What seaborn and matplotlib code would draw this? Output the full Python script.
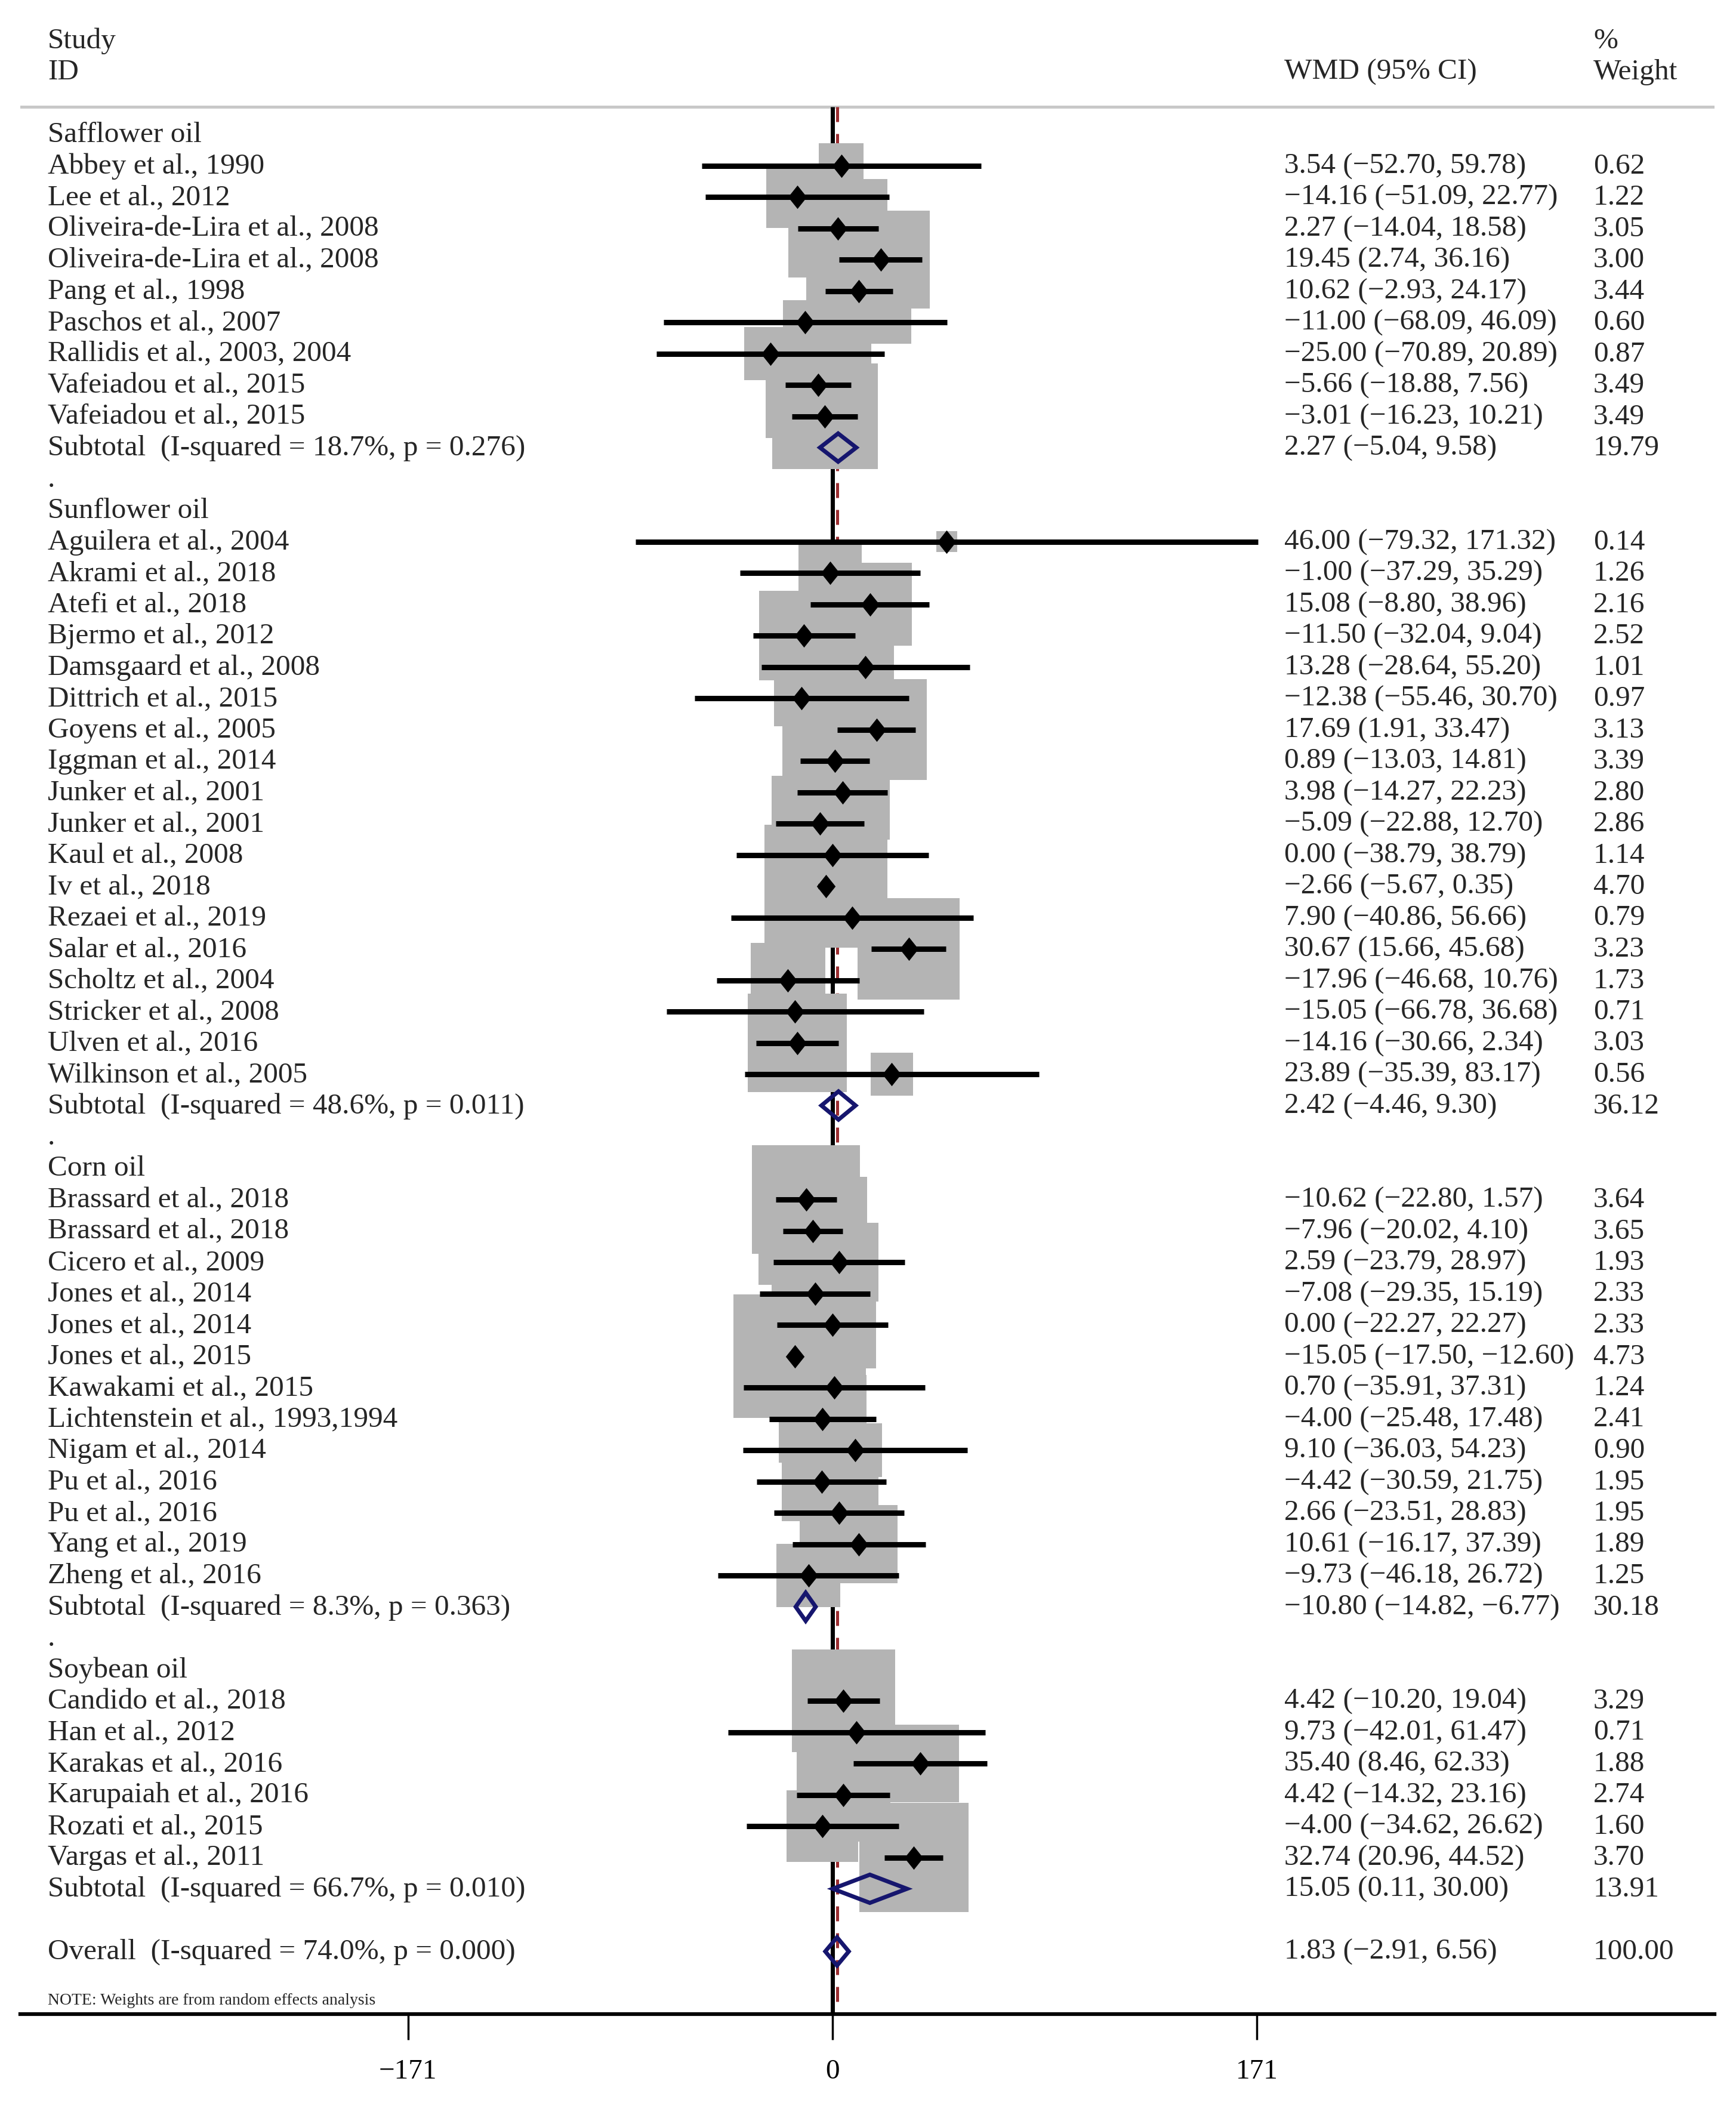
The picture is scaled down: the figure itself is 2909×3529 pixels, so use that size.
import numpy as np
import pandas as pd
import matplotlib
matplotlib.use("Agg")
import matplotlib.pyplot as plt
import seaborn as sns
from matplotlib.markers import MarkerStyle
from matplotlib.path import Path
from matplotlib.patches import Rectangle, Polygon
from matplotlib.transforms import blended_transform_factory

# Data
groups = ["Safflower oil", "Sunflower oil", "Corn oil", "Soybean oil"]
group_sizes = [9, 18, 13, 6]

studies = [
    "Abbey et al., 1990", "Lee et al., 2012", "Oliveira-de-Lira et al., 2008",
    "Oliveira-de-Lira et al., 2008", "Pang et al., 1998", "Paschos et al., 2007",
    "Rallidis et al., 2003, 2004", "Vafeiadou et al., 2015", "Vafeiadou et al., 2015",
    "Aguilera et al., 2004", "Akrami et al., 2018", "Atefi et al., 2018",
    "Bjermo et al., 2012", "Damsgaard et al., 2008", "Dittrich et al., 2015",
    "Goyens et al., 2005", "Iggman et al., 2014", "Junker et al., 2001",
    "Junker et al., 2001", "Kaul et al., 2008", "Iv et al., 2018",
    "Rezaei et al., 2019", "Salar et al., 2016", "Scholtz et al., 2004",
    "Stricker et al., 2008", "Ulven et al., 2016", "Wilkinson et al., 2005",
    "Brassard et al., 2018", "Brassard et al., 2018", "Cicero et al., 2009",
    "Jones et al., 2014", "Jones et al., 2014", "Jones et al., 2015",
    "Kawakami et al., 2015", "Lichtenstein et al., 1993,1994", "Nigam et al., 2014",
    "Pu et al., 2016", "Pu et al., 2016", "Yang et al., 2019", "Zheng et al., 2016",
    "Candido et al., 2018", "Han et al., 2012", "Karakas et al., 2016",
    "Karupaiah et al., 2016", "Rozati et al., 2015", "Vargas et al., 2011",
]
est = [3.54, -14.16, 2.27, 19.45, 10.62, -11.00, -25.00, -5.66, -3.01,
       46.00, -1.00, 15.08, -11.50, 13.28, -12.38, 17.69, 0.89, 3.98, -5.09,
       0.00, -2.66, 7.90, 30.67, -17.96, -15.05, -14.16, 23.89,
       -10.62, -7.96, 2.59, -7.08, 0.00, -15.05, 0.70, -4.00, 9.10, -4.42,
       2.66, 10.61, -9.73,
       4.42, 9.73, 35.40, 4.42, -4.00, 32.74]
lo = [-52.70, -51.09, -14.04, 2.74, -2.93, -68.09, -70.89, -18.88, -16.23,
      -79.32, -37.29, -8.80, -32.04, -28.64, -55.46, 1.91, -13.03, -14.27, -22.88,
      -38.79, -5.67, -40.86, 15.66, -46.68, -66.78, -30.66, -35.39,
      -22.80, -20.02, -23.79, -29.35, -22.27, -17.50, -35.91, -25.48, -36.03, -30.59,
      -23.51, -16.17, -46.18,
      -10.20, -42.01, 8.46, -14.32, -34.62, 20.96]
hi = [59.78, 22.77, 18.58, 36.16, 24.17, 46.09, 20.89, 7.56, 10.21,
      171.32, 35.29, 38.96, 9.04, 55.20, 30.70, 33.47, 14.81, 22.23, 12.70,
      38.79, 0.35, 56.66, 45.68, 10.76, 36.68, 2.34, 83.17,
      1.57, 4.10, 28.97, 15.19, 22.27, -12.60, 37.31, 17.48, 54.23, 21.75,
      28.83, 37.39, 26.72,
      19.04, 61.47, 62.33, 23.16, 26.62, 44.52]
weight = [0.62, 1.22, 3.05, 3.00, 3.44, 0.60, 0.87, 3.49, 3.49,
          0.14, 1.26, 2.16, 2.52, 1.01, 0.97, 3.13, 3.39, 2.80, 2.86,
          1.14, 4.70, 0.79, 3.23, 1.73, 0.71, 3.03, 0.56,
          3.64, 3.65, 1.93, 2.33, 2.33, 4.73, 1.24, 2.41, 0.90, 1.95,
          1.95, 1.89, 1.25,
          3.29, 0.71, 1.88, 2.74, 1.60, 3.70]

sub_labels = ["Subtotal  (I-squared = 18.7%, p = 0.276)",
              "Subtotal  (I-squared = 48.6%, p = 0.011)",
              "Subtotal  (I-squared = 8.3%, p = 0.363)",
              "Subtotal  (I-squared = 66.7%, p = 0.010)"]
sub_est = [2.27, 2.42, -10.80, 15.05]
sub_lo = [-5.04, -4.46, -14.82, 0.11]
sub_hi = [9.58, 9.30, -6.77, 30.00]
sub_wt = [19.79, 36.12, 30.18, 13.91]

overall_label = "Overall  (I-squared = 74.0%, p = 0.000)"
overall_est, overall_lo, overall_hi, overall_wt = 1.83, -2.91, 6.56, 100.00

xticks = [-171, 0, 171]
xtick_labels = ["\u2212171", "0", "171"]
note = "NOTE: Weights are from random effects analysis"


def fmt(v):
    return f"{v:.2f}".replace("-", "\u2212")


def ci_text(e, l, h):
    return f"{fmt(e)} ({fmt(l)}, {fmt(h)})"


# Layout (pixels of the output image)
W, H, DPI = 2909, 3530, 100
PX_UNIT = 4.16      # pixels per WMD unit
ZERO_PX = 1395
ROW0_PX = 226
ROW_PX = 52.5
AX_L, AX_R = 34, 2873
BOX_K = 95          # box side in px per sqrt(weight)
FS = 35.5

sns.set_theme(style="white")
plt.rcParams["font.family"] = ["Liberation Serif", "DejaVu Serif"]

fig = plt.figure(figsize=(W / DPI, H / DPI), dpi=DPI)
ax = fig.add_axes([AX_L / W, 0, (AX_R - AX_L) / W, 1])
tr = blended_transform_factory(fig.transFigure, ax.transData)
x_lab, x_wmd, x_wt = 80 / W, 2152 / W, 2670 / W

# assign rows: header, studies, subtotal, blank line per group
study_rows, header_rows, sub_rows, blank_rows = [], [], [], []
r = 0
for g, n in enumerate(group_sizes):
    header_rows.append(r)
    r += 1
    for _ in range(n):
        study_rows.append(r)
        r += 1
    sub_rows.append(r)
    r += 1
    if g < len(group_sizes) - 1:
        blank_rows.append(r)
    r += 1
overall_row = r
axis_row = overall_row + 2
rule_row = (180 - ROW0_PX) / ROW_PX

# header
ax.text(x_lab, -3, "Study", transform=tr, fontsize=FS, va="center")
ax.text(x_lab, -2, "ID", transform=tr, fontsize=FS, va="center")
ax.text(x_wmd, -2, "WMD (95% CI)", transform=tr, fontsize=FS, va="center")
ax.text(x_wt, -3, "%", transform=tr, fontsize=FS, va="center")
ax.text(x_wt, -2, "Weight", transform=tr, fontsize=FS, va="center")
ax.axhline(rule_row, color="#c8c8c8", lw=3.6, zorder=1)

# reference lines
ax.plot([0, 0], [rule_row, axis_row], color="black", lw=5, zorder=1,
        solid_capstyle="butt")
ax.plot([overall_est, overall_est], [rule_row, axis_row], color="#9b2d30",
        lw=3.6, dashes=(5, 4), zorder=1)

# weight boxes
for e, w, row in zip(est, weight, study_rows):
    side = BOX_K * np.sqrt(w)
    bw, bh = side / PX_UNIT, side / ROW_PX
    ax.add_patch(Rectangle((e - bw / 2, row - bh / 2), bw, bh,
                           facecolor="#b4b4b4", edgecolor="none", zorder=2))

# confidence intervals and point estimates
ax.hlines(study_rows, lo, hi, color="black", lw=6.5, zorder=3)
df = pd.DataFrame({"est": est, "row": study_rows})
diamond = MarkerStyle(Path([(0, 1), (0.8, 0), (0, -1), (-0.8, 0), (0, 1)],
                           [Path.MOVETO, Path.LINETO, Path.LINETO,
                            Path.LINETO, Path.CLOSEPOLY]))
sns.scatterplot(data=df, x="est", y="row", marker=diamond, s=800,
                color="black", linewidth=0, zorder=4, legend=False, ax=ax)

# pooled diamonds
pooled = list(zip(sub_est, sub_lo, sub_hi, sub_rows)) + \
    [(overall_est, overall_lo, overall_hi, overall_row)]
for e, l, h, row in pooled:
    ax.add_patch(Polygon([(l, row), (e, row - 0.45), (h, row), (e, row + 0.45)],
                         closed=True, facecolor="none", edgecolor="#16166e",
                         lw=5, zorder=5))

# text columns
for g, row in zip(groups, header_rows):
    ax.text(x_lab, row, g, transform=tr, fontsize=FS, va="center")
for s, e, l, h, w, row in zip(studies, est, lo, hi, weight, study_rows):
    ax.text(x_lab, row, s, transform=tr, fontsize=FS, va="center")
    ax.text(x_wmd, row, ci_text(e, l, h), transform=tr, fontsize=FS, va="center")
    ax.text(x_wt, row, f"{w:.2f}", transform=tr, fontsize=FS, va="center")
for lab, e, l, h, w, row in zip(sub_labels, sub_est, sub_lo, sub_hi, sub_wt, sub_rows):
    ax.text(x_lab, row, lab, transform=tr, fontsize=FS, va="center")
    ax.text(x_wmd, row, ci_text(e, l, h), transform=tr, fontsize=FS, va="center")
    ax.text(x_wt, row, f"{w:.2f}", transform=tr, fontsize=FS, va="center")
for row in blank_rows:
    ax.text(x_lab, row, ".", transform=tr, fontsize=FS, va="center")
ax.text(x_lab, overall_row, overall_label, transform=tr, fontsize=FS, va="center")
ax.text(x_wmd, overall_row, ci_text(overall_est, overall_lo, overall_hi),
        transform=tr, fontsize=FS, va="center")
ax.text(x_wt, overall_row, f"{overall_wt:.2f}", transform=tr, fontsize=FS, va="center")
ax.text(x_lab, axis_row - 0.45, note, transform=tr, fontsize=20, va="center")

# axes
ax.set_xlim((AX_L - ZERO_PX) / PX_UNIT, (AX_R - ZERO_PX) / PX_UNIT)
ax.set_ylim((H - ROW0_PX) / ROW_PX, -ROW0_PX / ROW_PX)
ax.set_xlabel("")
ax.set_ylabel("")
for side in ["top", "left", "right"]:
    ax.spines[side].set_visible(False)
ax.spines["bottom"].set_position(("data", axis_row))
ax.spines["bottom"].set_linewidth(4.5)
ax.spines["bottom"].set_color("black")
ax.set_xticks(xticks)
ax.set_xticklabels(xtick_labels)
ax.tick_params(axis="x", direction="out", length=31, width=2.5, pad=23,
               labelsize=34, colors="black", bottom=True)
ax.tick_params(axis="y", left=False, labelleft=False)
ax.set_facecolor("white")
ax.patch.set_alpha(0)

fig.savefig("out.png", dpi=DPI, facecolor="white")
